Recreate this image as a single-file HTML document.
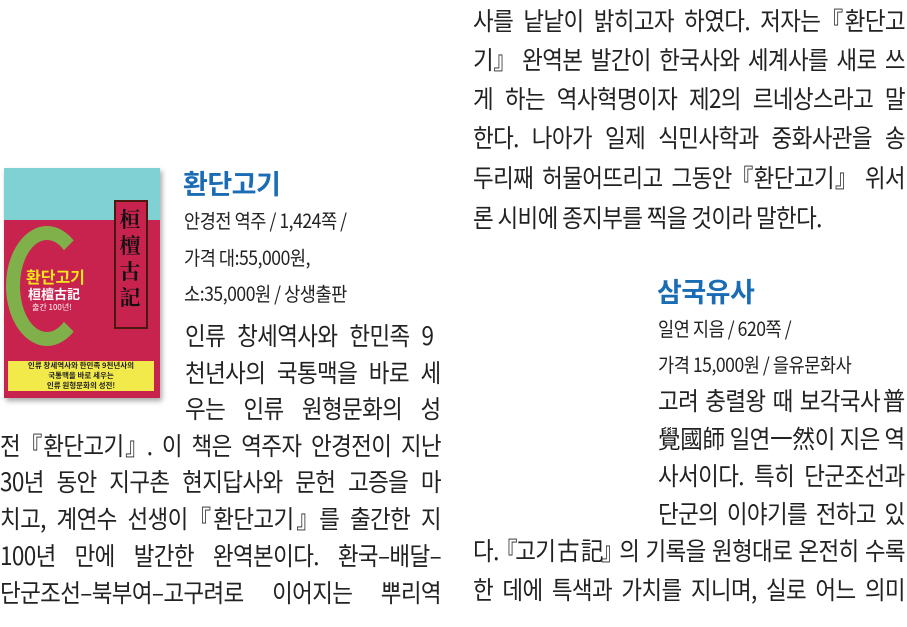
<!DOCTYPE html>
<html><head><meta charset="utf-8">
<style>
html,body{margin:0;padding:0;background:#fff;}
body{width:907px;height:627px;position:relative;overflow:hidden;font-family:"Noto Sans CJK KR","Liberation Sans",sans-serif;color:#222;}
.l{position:absolute;white-space:nowrap;text-align:justify;text-align-last:justify;font-size:25px;letter-spacing:-0.7px;line-height:28px;height:28px;transform:scaleX(0.9);transform-origin:0 0;}
.s{position:absolute;white-space:nowrap;font-size:19.5px;letter-spacing:-0.5px;line-height:22px;transform:scaleX(0.9);transform-origin:0 0;}
.t{position:absolute;font-size:27px;font-weight:bold;color:#1a6db5;letter-spacing:-0.5px;line-height:30px;}
.o{margin-left:-6px;margin-right:-4px;}
.c{margin-right:-6px;margin-left:-4px;}
</style></head><body>

<div style="position:absolute;left:4px;top:168px;width:156px;height:230px;background:#c8234f;box-shadow:2px 3px 5px rgba(0,0,0,0.35);overflow:hidden;">
  <div style="position:absolute;left:0;top:0;width:156px;height:52px;background:#7fd1d4;"></div>
  <div style="position:absolute;left:110px;top:32px;width:30px;height:125px;background:#c8234f;border:2px solid #4a1a10;"></div>
  <div style="position:absolute;left:113px;top:38px;width:26px;font-size:21px;line-height:26px;font-weight:bold;color:#111;font-family:'Noto Serif CJK SC',serif;text-align:center;">桓檀古記</div>
  <div style="position:absolute;left:2px;top:58px;width:82px;height:120px;border:14px solid #7fb04a;border-right-color:transparent;border-radius:50%;box-sizing:border-box;"></div>
  <div style="position:absolute;left:22px;top:96px;font-size:16px;font-weight:bold;color:#f5e81a;">환단고기</div>
  <div style="position:absolute;left:24px;top:116px;font-size:13px;font-weight:bold;color:#fff;">桓檀古記</div>
  <div style="position:absolute;left:28px;top:134px;font-size:8px;color:#fff;">출간 100년!</div>
  <div style="position:absolute;left:4px;top:193px;width:146px;height:30px;background:#f2e94a;font-size:7.5px;line-height:10px;text-align:center;color:#222;font-weight:bold;">인류 창세역사와 한민족 9천년사의<br>국통맥을 바로 세우는<br>인류 원형문화의 성전!</div>
</div>

<div class="t" style="left:183px;top:168px;">환단고기</div>
<div class="s" style="left:184px;top:209px;">안경전 역주 / 1,424쪽 /</div>
<div class="s" style="left:184px;top:246px;">가격 대:55,000원,</div>
<div class="s" style="left:184px;top:282px;">소:35,000원 / 상생출판</div>
<div class="l" style="left:185px;top:321px;width:276px;">인류 창세역사와 한민족 9</div>
<div class="l" style="left:185px;top:358px;width:284px;">천년사의 국통맥을 바로 세</div>
<div class="l" style="left:185px;top:394px;width:284px;">우는 인류 원형문화의 성</div>
<div class="l" style="left:0px;top:431px;width:490px;">전<span class="o">『</span>환단고기<span class="c">』</span>. 이 책은 역주자 안경전이 지난</div>
<div class="l" style="left:0px;top:467px;width:490px;">30년 동안 지구촌 현지답사와 문헌 고증을 마</div>
<div class="l" style="left:0px;top:504px;width:490px;">치고, 계연수 선생이<span class="o">『</span>환단고기<span class="c">』</span>를 출간한 지</div>
<div class="l" style="left:0px;top:541px;width:490px;">100년 만에 발간한 완역본이다. 환국–배달–</div>
<div class="l" style="left:0px;top:578px;width:490px;">단군조선–북부여–고구려로 이어지는 뿌리역</div>

<div class="l" style="left:473px;top:6px;width:480px;">사를 낱낱이 밝히고자 하였다. 저자는<span class="o">『</span>환단고</div>
<div class="l" style="left:473px;top:45px;width:480px;">기<span class="c">』</span> 완역본 발간이 한국사와 세계사를 새로 쓰</div>
<div class="l" style="left:473px;top:84px;width:480px;">게 하는 역사혁명이자 제2의 르네상스라고 말</div>
<div class="l" style="left:473px;top:123px;width:480px;">한다. 나아가 일제 식민사학과 중화사관을 송</div>
<div class="l" style="left:473px;top:163px;width:480px;">두리째 허물어뜨리고 그동안<span class="o">『</span>환단고기<span class="c">』</span> 위서</div>
<div class="l" style="left:473px;top:203px;text-align:left;text-align-last:left;">론 시비에 종지부를 찍을 것이라 말한다.</div>

<div class="t" style="left:657px;top:276px;">삼국유사</div>
<div class="s" style="left:658px;top:317px;">일연 지음 / 620쪽 /</div>
<div class="s" style="left:658px;top:353px;">가격 15,000원 / 을유문화사</div>
<div class="l" style="left:658px;top:386px;width:274px;">고려 충렬왕 때 보각국사普</div>
<div class="l" style="left:658px;top:424px;width:274px;">覺國師 일연一然이 지은 역</div>
<div class="l" style="left:658px;top:461px;width:274px;">사서이다. 특히 단군조선과</div>
<div class="l" style="left:658px;top:499px;width:274px;">단군의 이야기를 전하고 있</div>
<div class="l" style="left:473px;top:536px;width:480px;">다.<span class="o">『</span>고기古記<span class="c">』</span>의 기록을 원형대로 온전히 수록</div>
<div class="l" style="left:473px;top:575px;width:480px;">한 데에 특색과 가치를 지니며, 실로 어느 의미</div>

</body></html>
